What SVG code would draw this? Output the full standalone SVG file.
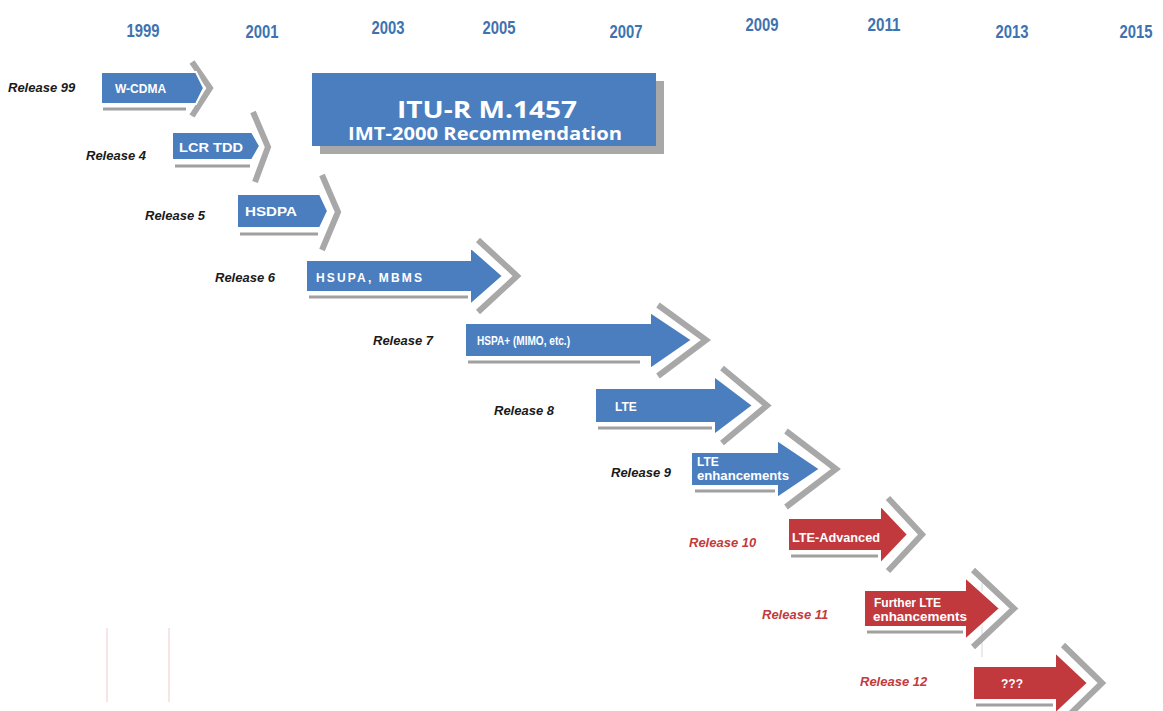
<svg xmlns="http://www.w3.org/2000/svg" width="1163" height="711" viewBox="0 0 1163 711">
<style>
.yr{font-family:"Liberation Sans",Arial,sans-serif;font-weight:bold;font-size:18px;fill:#3f72b0;text-anchor:middle}
.rel{font-family:"Liberation Sans",Arial,sans-serif;font-weight:bold;font-style:italic;font-size:13px;fill:#1a1a1a}
.relr{fill:#c43a3d}
.lbl{font-family:"Liberation Sans",Arial,sans-serif;font-weight:bold;font-size:12px;fill:#ffffff}
.blue{fill:#4a7ebf;stroke:#ffffff;stroke-width:2}
.red{fill:#c2393d;stroke:#ffffff;stroke-width:2}
.chev{fill:none;stroke:#a8a8a8;stroke-width:6;stroke-linejoin:miter}
.ul{stroke:#a0a0a0;stroke-width:3}
.itu{font-family:"Open Sans",Lato,sans-serif;font-weight:bold;fill:#ffffff}
</style>
<rect width="1163" height="711" fill="#ffffff"/>
<g id="years">
<text class="yr" x="143" y="37" textLength="33" lengthAdjust="spacingAndGlyphs">1999</text>
<text class="yr" x="262" y="38" textLength="33" lengthAdjust="spacingAndGlyphs">2001</text>
<text class="yr" x="388" y="34" textLength="33" lengthAdjust="spacingAndGlyphs">2003</text>
<text class="yr" x="499" y="34" textLength="33" lengthAdjust="spacingAndGlyphs">2005</text>
<text class="yr" x="626" y="38" textLength="33" lengthAdjust="spacingAndGlyphs">2007</text>
<text class="yr" x="762" y="31" textLength="33" lengthAdjust="spacingAndGlyphs">2009</text>
<text class="yr" x="884" y="31" textLength="33" lengthAdjust="spacingAndGlyphs">2011</text>
<text class="yr" x="1012" y="38" textLength="33" lengthAdjust="spacingAndGlyphs">2013</text>
<text class="yr" x="1136" y="38" textLength="33" lengthAdjust="spacingAndGlyphs">2015</text>
</g>
<g id="guides" stroke-width="1">
<line x1="107" y1="628" x2="107" y2="702" stroke="#f0cccc"/>
<line x1="169" y1="628" x2="169" y2="702" stroke="#f0cccc"/>
<line x1="982" y1="583" x2="982" y2="657" stroke="#d8d8d8"/>
</g>
<g id="itu">
<rect x="320" y="81" width="344" height="73" fill="#a8a8a8"/>
<rect x="312" y="73" width="344" height="73" fill="#4a7ebf"/>
<text class="itu" x="397" y="118" font-size="24" textLength="180" lengthAdjust="spacingAndGlyphs">ITU-R M.1457</text>
<text class="itu" x="348" y="140" font-size="17" textLength="274" lengthAdjust="spacingAndGlyphs">IMT-2000 Recommendation</text>
</g>
<g id="rel99">
<path class="chev" d="M192,62 L210,88 L192,116" stroke-width="7"/>
<line class="ul" x1="103" y1="109" x2="186" y2="109"/>
<path class="blue" d="M101,72 H196 L204,88 L196,104 H101 Z"/>
<text class="lbl" x="115" y="93">W-CDMA</text>
<text class="rel" x="8" y="92">Release 99</text>
</g>
<g id="rel4">
<path class="chev" d="M253,112 L268,147 L255,182" stroke-width="7"/>
<line class="ul" x1="175" y1="166" x2="250" y2="166"/>
<path class="blue" d="M172,132 H252 L260,146 L252,160 H172 Z"/>
<text class="lbl" x="179" y="152" font-size="15" textLength="64" lengthAdjust="spacingAndGlyphs">LCR TDD</text>
<text class="rel" x="86" y="160">Release 4</text>
</g>
<g id="rel5">
<path class="chev" d="M322,175 L338,212 L322,250" stroke-width="7"/>
<line class="ul" x1="240" y1="234" x2="318" y2="234"/>
<path class="blue" d="M237,194 H320 L328,211 L320,228 H237 Z"/>
<text class="lbl" x="245" y="216" font-size="13" textLength="52" lengthAdjust="spacingAndGlyphs">HSDPA</text>
<text class="rel" x="145" y="220">Release 5</text>
</g>
<g id="rel6">
<path class="chev" d="M478,240 L517,276 L478,312"/>
<line class="ul" x1="309" y1="297" x2="468" y2="297"/>
<path class="blue" d="M306,260 H470 V247 L503,276 L470,305 V292 H306 Z"/>
<text class="lbl" x="316" y="282" font-size="14" textLength="106" lengthAdjust="spacing">HSUPA, MBMS</text>
<text class="rel" x="215" y="282">Release 6</text>
</g>
<g id="rel7">
<path class="chev" d="M658,305 L706,340 L658,376"/>
<line class="ul" x1="468" y1="362" x2="640" y2="362"/>
<path class="blue" d="M465,323 H650 V312 L692,340 L650,369 V357 H465 Z"/>
<text class="lbl" x="477" y="345" font-size="10" textLength="93" lengthAdjust="spacingAndGlyphs">HSPA+ (MIMO, etc.)</text>
<text class="rel" x="373" y="345">Release 7</text>
</g>
<g id="rel8">
<path class="chev" d="M722,368 L767,405.5 L722,443"/>
<line class="ul" x1="598" y1="428" x2="712" y2="428"/>
<path class="blue" d="M595,388 H714 V376 L753,405.5 L714,435 V423 H595 Z"/>
<text class="lbl" x="615" y="411" font-size="14">LTE</text>
<text class="rel" x="494" y="415">Release 8</text>
</g>
<g id="rel9">
<path class="chev" d="M786,431 L836,469 L786,507"/>
<line class="ul" x1="695" y1="491" x2="775" y2="491"/>
<path class="blue" d="M691,452 H777 V440 L820,469 L777,498 V486 H691 Z"/>
<text class="lbl" x="697" y="466" font-size="12.5">LTE</text>
<text class="lbl" x="697" y="480" font-size="12.5" textLength="92" lengthAdjust="spacingAndGlyphs">enhancements</text>
<text class="rel" x="611" y="477">Release 9</text>
</g>
<g id="rel10">
<path class="chev" d="M888,498 L922,534.5 L888,571"/>
<line class="ul" x1="791" y1="556" x2="878" y2="556"/>
<path class="red" d="M788,518 H880 V505 L908,534.5 L880,564 V551 H788 Z"/>
<text class="lbl" x="792" y="542" font-size="12.5" textLength="88" lengthAdjust="spacingAndGlyphs">LTE-Advanced</text>
<text class="rel relr" x="689" y="547">Release 10</text>
</g>
<g id="rel11">
<path class="chev" d="M973,570 L1014,608.5 L973,647"/>
<line class="ul" x1="867" y1="632" x2="963" y2="632"/>
<path class="red" d="M864,590 H965 V577 L1000,608.5 L965,640 V627 H864 Z"/>
<text class="lbl" x="874" y="607" font-size="12.5">Further LTE</text>
<text class="lbl" x="873" y="621" font-size="12.5" textLength="94" lengthAdjust="spacingAndGlyphs">enhancements</text>
<text class="rel relr" x="762" y="619">Release 11</text>
</g>
<g id="rel12">
<path class="chev" d="M1063,645 L1102,683 L1063,721"/>
<line class="ul" x1="976" y1="705" x2="1053" y2="705"/>
<path class="red" d="M973,666 H1055 V652 L1088,683 L1055,714 V700 H973 Z"/>
<text class="lbl" x="1001" y="688" font-size="11">???</text>
<text class="rel relr" x="860" y="686">Release 12</text>
</g>
</svg>
